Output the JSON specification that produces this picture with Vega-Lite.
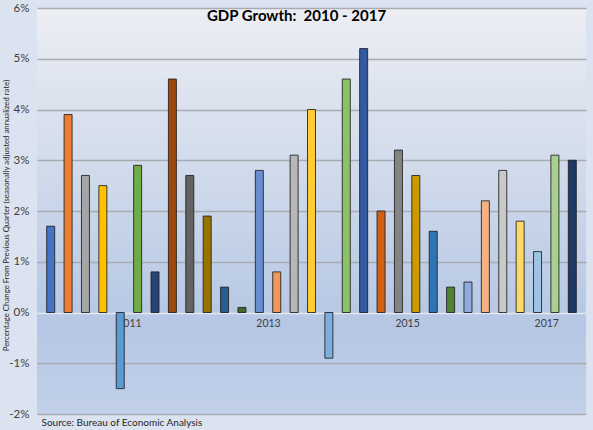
{
  "$schema": "https://vega.github.io/schema/vega-lite/v6.json",
  "width": 549,
  "height": 406,
  "autosize": "none",
  "padding": {"left": 37, "top": 8, "right": 7, "bottom": 16},
  "background": "#dbe3f0",
  "title": {
    "text": "GDP Growth:\u00a0 2010 - 2017",
    "font": "Lato",
    "fontSize": 15,
    "fontWeight": "bold",
    "color": "#000000",
    "anchor": "middle",
    "offset": -22,
    "dx": -15
  },
  "data": {
    "values": [
      {"quarter": "2010 Q1", "idx": 1, "growth": 1.7},
      {"quarter": "2010 Q2", "idx": 2, "growth": 3.9},
      {"quarter": "2010 Q3", "idx": 3, "growth": 2.7},
      {"quarter": "2010 Q4", "idx": 4, "growth": 2.5},
      {"quarter": "2011 Q1", "idx": 5, "growth": -1.5},
      {"quarter": "2011 Q2", "idx": 6, "growth": 2.9},
      {"quarter": "2011 Q3", "idx": 7, "growth": 0.8},
      {"quarter": "2011 Q4", "idx": 8, "growth": 4.6},
      {"quarter": "2012 Q1", "idx": 9, "growth": 2.7},
      {"quarter": "2012 Q2", "idx": 10, "growth": 1.9},
      {"quarter": "2012 Q3", "idx": 11, "growth": 0.5},
      {"quarter": "2012 Q4", "idx": 12, "growth": 0.1},
      {"quarter": "2013 Q1", "idx": 13, "growth": 2.8},
      {"quarter": "2013 Q2", "idx": 14, "growth": 0.8},
      {"quarter": "2013 Q3", "idx": 15, "growth": 3.1},
      {"quarter": "2013 Q4", "idx": 16, "growth": 4.0},
      {"quarter": "2014 Q1", "idx": 17, "growth": -0.9},
      {"quarter": "2014 Q2", "idx": 18, "growth": 4.6},
      {"quarter": "2014 Q3", "idx": 19, "growth": 5.2},
      {"quarter": "2014 Q4", "idx": 20, "growth": 2.0},
      {"quarter": "2015 Q1", "idx": 21, "growth": 3.2},
      {"quarter": "2015 Q2", "idx": 22, "growth": 2.7},
      {"quarter": "2015 Q3", "idx": 23, "growth": 1.6},
      {"quarter": "2015 Q4", "idx": 24, "growth": 0.5},
      {"quarter": "2016 Q1", "idx": 25, "growth": 0.6},
      {"quarter": "2016 Q2", "idx": 26, "growth": 2.2},
      {"quarter": "2016 Q3", "idx": 27, "growth": 2.8},
      {"quarter": "2016 Q4", "idx": 28, "growth": 1.8},
      {"quarter": "2017 Q1", "idx": 29, "growth": 1.2},
      {"quarter": "2017 Q2", "idx": 30, "growth": 3.1},
      {"quarter": "2017 Q3", "idx": 31, "growth": 3.0}
    ]
  },
  "mark": {"type": "bar", "width": 8, "stroke": "#1e1e1e", "strokeWidth": 1, "strokeOpacity": 0.85},
  "encoding": {
    "x": {
      "field": "idx",
      "type": "quantitative",
      "scale": {"domain": [0.5, 31.5], "nice": false, "zero": false},
      "axis": {
        "orient": "bottom",
        "offset": -101,
        "values": [5.5, 13.5, 21.5, 29.5],
        "labelExpr": "'' + (2010 + (datum.value - 1.5) / 4)",
        "ticks": false,
        "domain": false,
        "grid": false,
        "labelFont": "Lato",
        "labelFontSize": 10.5,
        "labelColor": "#404040",
        "labelPadding": 5,
        "title": "Source: Bureau of Economic Analysis",
        "titleFont": "Lato",
        "titleFontSize": 10,
        "titleFontWeight": "normal",
        "titleColor": "#262626",
        "titleAnchor": "start",
        "titleAlign": "left",
        "titleBaseline": "middle",
        "titleX": 4,
        "titleY": 109
      }
    },
    "y": {
      "field": "growth",
      "type": "quantitative",
      "scale": {"domain": [-2, 6], "nice": false},
      "axis": {
        "values": [-2, -1, 0, 1, 2, 3, 4, 5, 6],
        "labelExpr": "datum.value + '%'",
        "ticks": false,
        "domain": false,
        "grid": true,
        "gridColor": {"condition": {"test": "datum.value === 0", "value": "#e2e8f2"}, "value": "#a8acb2"},
        "gridWidth": 1.3,
        "labelFont": "Lato",
        "labelFontSize": 11.5,
        "labelColor": "#404040",
        "labelPadding": 8,
        "title": "Percentage Change From Previous Quarter (seasonally adjusted annualized rate)",
        "titleFont": "Lato",
        "titleFontSize": 7.8,
        "titleFontWeight": "normal",
        "titleColor": "#262626",
        "titleAngle": -90,
        "titleAlign": "center",
        "titleBaseline": "middle",
        "titleX": -31,
        "titleY": 207
      }
    },
    "color": {
      "field": "quarter",
      "type": "nominal",
      "legend": null,
      "scale": {
        "range": [
          "#4472C4", "#ED7D31", "#A5A5A5", "#FFC000", "#5B9BD5", "#70AD47",
          "#264478", "#9E480E", "#636363", "#997300", "#255E91", "#43682B",
          "#698ED0", "#F1975A", "#B7B7B7", "#FFCD33", "#7CAFDD", "#8CC168",
          "#335AA1", "#D26012", "#848484", "#CC9A00", "#2E75B6", "#548235",
          "#8FAADC", "#F4B183", "#C9C9C9", "#FFD966", "#9DC3E6", "#A9D18E",
          "#203864"
        ]
      }
    }
  },
  "config": {
    "view": {
      "stroke": null,
      "fill": {
        "gradient": "linear",
        "x1": 0, "y1": 0, "x2": 0, "y2": 1,
        "stops": [
          {"offset": 0, "color": "#eceef3"},
          {"offset": 0.45, "color": "#cdd8ea"},
          {"offset": 0.78, "color": "#b5c7e4"},
          {"offset": 1, "color": "#c2d0e9"}
        ]
      }
    }
  }
}
